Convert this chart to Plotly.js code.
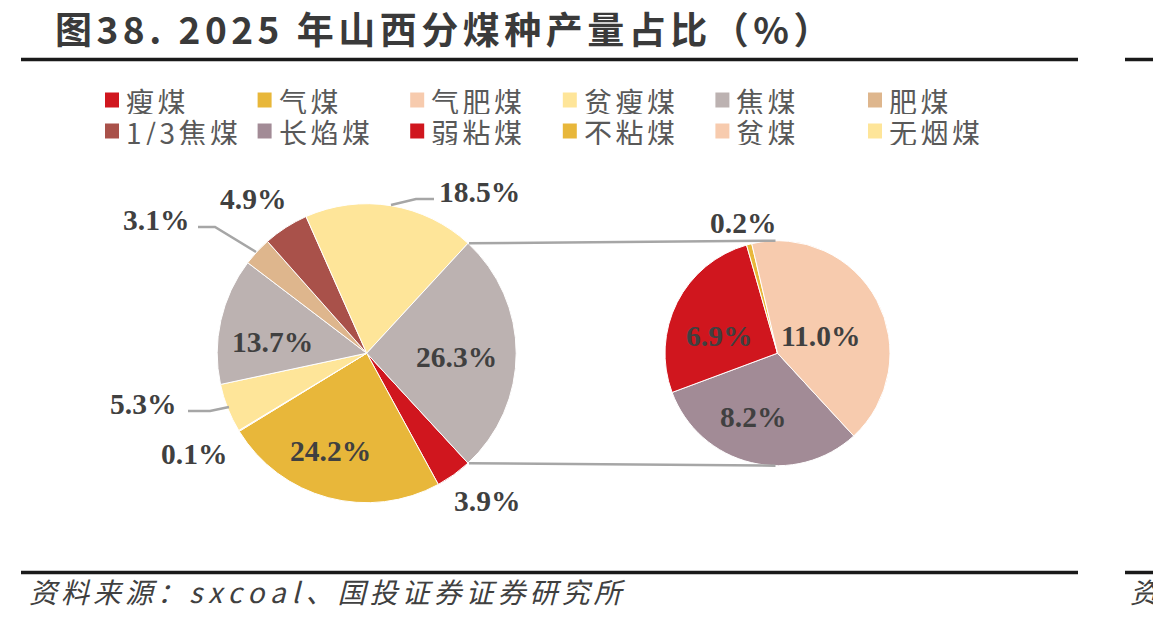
<!DOCTYPE html>
<html><head><meta charset="utf-8">
<script src="https://cdn.plot.ly/plotly-3.0.1.min.js"></script>
<style>html,body{margin:0;padding:0;background:#fff;}#chart{width:1153px;height:625px;}</style>
</head><body><div id="chart"></div>
<script>
// ---------------- data ----------------
const mainCategories = ['瘦煤','气煤','气肥煤','贫瘦煤','焦煤','肥煤','1/3焦煤','无烟煤','其他'];
const mainValues     = [3.9, 24.2, 0.1, 5.3, 13.7, 3.1, 4.9, 18.5, 26.3];
const subCategories  = ['长焰煤','弱粘煤','不粘煤','贫煤'];
const subValues      = [8.2, 6.9, 0.2, 11.0];
const legendCategories = ['瘦煤','气煤','气肥煤','贫瘦煤','焦煤','肥煤','1/3焦煤','长焰煤','弱粘煤','不粘煤','贫煤','无烟煤'];
const titleText  = '图38. 2025 年山西分煤种产量占比（%）';
const sourceText = '资料来源：<span style="letter-spacing:6px">sxcoal</span>、国投证券证券研究所';

// ---------------- style ----------------
const W = 1153, H = 625;
const colorOf = {'瘦煤':'#D0161E','气煤':'#E8B73A','气肥煤':'#F7CBAE','贫瘦煤':'#FEE599','焦煤':'#BCB2B1',
  '肥煤':'#DEB68D','1/3焦煤':'#A9514A','长焰煤':'#A28B96','弱粘煤':'#D0161E','不粘煤':'#E8B73A',
  '贫煤':'#F7CBAE','无烟煤':'#FEE599','其他':'#BCB2B1'};
const mainPie = {cx:366.7, cy:353.2, r:149.5};
const subPie  = {cx:777.5, cy:353.2, r:112.5};
// label centres (px) for each slice label, keyed by category
const labelPos = {'瘦煤':[487,501],'气煤':[330,451],'气肥煤':[194,454],'贫瘦煤':[143,404],'焦煤':[272,342],
  '肥煤':[156,220],'1/3焦煤':[253,199],'无烟煤':[479,192],'其他':[456,357],
  '长焰煤':[753,417],'弱粘煤':[719,336],'不粘煤':[743,223],'贫煤':[821,336]};
const leaderLines = [
  [[391,205],[416,199],[434,199]],
  [[198,227],[215,227],[256,252]],
  [[188,411],[210,411],[229,407]]
];
const X = p => p / W, Y = p => 1 - p / H;
const labelColor = '#404040', lineGrey = '#A6A6A6';

// ---------------- geometry from data ----------------
const mainTotal = mainValues.reduce((a,b)=>a+b,0);
const otherVal = mainValues[mainValues.length-1];
const rotation = 90 + otherVal / mainTotal * 180;       // "other" slice centred at 3 o'clock
const topAng = (rotation - otherVal / mainTotal * 360) * Math.PI/180;
const botAng = rotation * Math.PI/180;
const pt = (c, a) => [c.cx + c.r*Math.sin(a), c.cy - c.r*Math.cos(a)];

const data = [
  {type:'pie', labels:mainCategories, values:mainValues, sort:false, direction:'clockwise', rotation:rotation,
   marker:{colors:mainCategories.map(c=>colorOf[c]), line:{color:'#ffffff', width:1}},
   textinfo:'none', hoverinfo:'label+value', showlegend:false,
   domain:{x:[X(mainPie.cx-mainPie.r), X(mainPie.cx+mainPie.r)], y:[Y(mainPie.cy+mainPie.r), Y(mainPie.cy-mainPie.r)]}},
  {type:'pie', labels:subCategories, values:subValues, sort:false, direction:'clockwise', rotation:rotation,
   marker:{colors:subCategories.map(c=>colorOf[c]), line:{color:'#ffffff', width:1}},
   textinfo:'none', hoverinfo:'label+value', showlegend:false,
   domain:{x:[X(subPie.cx-subPie.r), X(subPie.cx+subPie.r)], y:[Y(subPie.cy+subPie.r), Y(subPie.cy-subPie.r)]}}
];

const shapes = [];
const annotations = [];
// rules
[[59.5,21,1078],[59.5,1125,1153],[572.5,21,1078],[572.5,1125,1153]].forEach(([y,x0,x1])=>{
  shapes.push({type:'line', xref:'paper', yref:'paper', x0:X(x0), x1:X(x1), y0:Y(y), y1:Y(y), line:{color:'#1a1a1a', width:3.5}});
});
// connectors
const t0 = pt(mainPie, topAng), b0 = pt(mainPie, botAng);
shapes.push({type:'line', xref:'paper', yref:'paper', x0:X(t0[0]+1), y0:Y(t0[1]), x1:X(subPie.cx-2), y1:Y(subPie.cy-subPie.r), line:{color:lineGrey, width:2.5}});
shapes.push({type:'line', xref:'paper', yref:'paper', x0:X(b0[0]+1), y0:Y(b0[1]), x1:X(subPie.cx-2), y1:Y(subPie.cy+subPie.r), line:{color:lineGrey, width:2.5}});
// leader lines
leaderLines.forEach(l=>{
  const d = l.map((p,i)=>(i?'L':'M')+X(p[0])+','+Y(p[1])).join(' ');
  shapes.push({type:'path', xref:'paper', yref:'paper', path:d, line:{color:lineGrey, width:2.5}});
});
// slice labels
const addLabel = (cat, v) => {
  const p = labelPos[cat];
  annotations.push({xref:'paper', yref:'paper', x:X(p[0]), y:Y(p[1]), xanchor:'center', yanchor:'middle',
    text:v.toFixed(1)+'%', showarrow:false, font:{family:'Liberation Serif', size:29.5, color:labelColor, weight:'bold'}});
};
mainCategories.forEach((c,i)=>addLabel(c, mainValues[i]));
subCategories.forEach((c,i)=>addLabel(c, subValues[i]));
// legend
legendCategories.forEach((c,i)=>{
  const col = i % 6, row = Math.floor(i/6);
  const x = 105 + col*152.6, y = 100 + row*31;
  shapes.push({type:'rect', xref:'paper', yref:'paper', x0:X(x), x1:X(x+14), y0:Y(y-7.5), y1:Y(y+7.5), fillcolor:colorOf[c], line:{width:0}});
  annotations.push({xref:'paper', yref:'paper', x:X(x+20), y:Y(y), xanchor:'left', yanchor:'middle', showarrow:false,
    height:27, borderpad:0, valign:'middle',
    text:'<span style="letter-spacing:3.5px">'+c+'</span>', font:{family:'Noto Sans CJK SC', size:28, color:'#595959'}});
});
// title & source
annotations.push({xref:'paper', yref:'paper', x:X(53), y:Y(28), xanchor:'left', yanchor:'middle', showarrow:false,
  text:'<span style="letter-spacing:4.5px">'+titleText+'</span>', font:{family:'Noto Sans CJK SC', size:37, color:'#3a3a3a', weight:'bold'}});
annotations.push({xref:'paper', yref:'paper', x:X(27), y:Y(591), xanchor:'left', yanchor:'middle', showarrow:false,
  text:'<span style="letter-spacing:4px">'+sourceText+'</span>', font:{family:'Noto Sans CJK SC', size:28, color:'#404040', style:'italic'}});
annotations.push({xref:'paper', yref:'paper', x:X(1128), y:Y(591), xanchor:'left', yanchor:'middle', showarrow:false,
  text:'资', font:{family:'Noto Sans CJK SC', size:28, color:'#404040', style:'italic'}});

const layout = {width:W, height:H, margin:{l:0,r:0,t:0,b:0}, paper_bgcolor:'#ffffff', plot_bgcolor:'#ffffff',
  showlegend:false, shapes:shapes, annotations:annotations};
Plotly.newPlot('chart', data, layout, {displayModeBar:false, staticPlot:true});
</script></body></html>
